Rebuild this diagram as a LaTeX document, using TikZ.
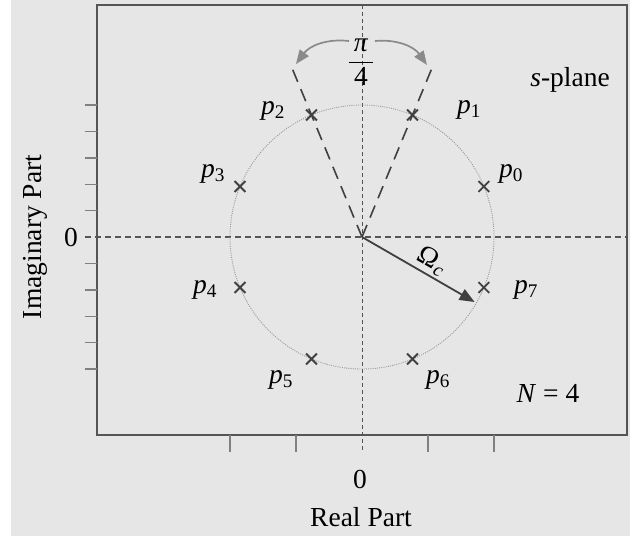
\documentclass[tikz,border=0pt]{standalone}
\usepackage{fontspec}
\setmainfont{Liberation Serif}
\usetikzlibrary{arrows.meta,shapes.misc}
\definecolor{bg}{HTML}{E6E6E6}
\definecolor{ink}{HTML}{404040}
\definecolor{frame}{HTML}{555555}
\definecolor{tickc}{HTML}{808080}
\definecolor{arcc}{HTML}{8A8A8A}
\definecolor{circc}{HTML}{9A9A9A}
\begin{document}
\begin{tikzpicture}[x=1pt,y=-1pt,
  lbl/.style={font=\fontsize{27.5}{32}\selectfont, inner sep=0pt, text=black},
  polemark/.style={draw=ink, cross out, minimum size=9pt, inner sep=0pt, line width=1.8pt},
  boxline/.style={draw=frame, line width=1.3pt},
  tickline/.style={draw=tickc, line width=1.4pt},
  axisv/.style={draw=ink!90, line width=1pt, dash pattern=on 4pt off 3pt},
  axish/.style={draw=frame, line width=1.1pt, dash pattern=on 6pt off 4pt},
  radial/.style={draw=ink, line width=1.6pt, dash pattern=on 13pt off 8pt},
  unitcirc/.style={draw=circc, line width=0.9pt, dash pattern=on 1pt off 1.2pt},
  omegaarrow/.style={draw=ink, line width=1.8pt, -{Triangle[length=15pt,width=12pt]}},
  anglearrow/.style={draw=arcc, line width=1.7pt, -{Triangle[length=14pt,width=11pt]}}]
\useasboundingbox (0,0) rectangle (630,536);
\fill[bg] (11,0) rectangle (630,536);
% frame
\draw[boxline] (97,5) rectangle (627,435);
% coordinates
\coordinate (O) at (362,237);
\coordinate (AL) at (85,237);
\coordinate (AR) at (627,237);
\coordinate (AT) at (362,5);
\coordinate (AB) at (362,452);
\coordinate (R1) at (432.0,68.0);
\coordinate (R2) at (292.0,68.0);
\coordinate (W) at (474.6,302);
% ticks
\foreach \yy in {105,131.4,157.8,184.2,210.6,263.4,289.8,316.2,342.6,369}
  \draw[tickline] (85,\yy) -- (97,\yy);
\foreach \xx in {230,296,428,494}
  \draw[tickline] (\xx,435) -- (\xx,452);
% axes
\draw[axish] (AL) -- (AR);
\draw[axisv] (AT) -- (AB);
% circle
\draw[unitcirc] (O) circle[radius=132];
% radial dashed lines
\draw[radial] (O) -- (R1);
\draw[radial] (O) -- (R2);
% poles
\node[polemark] (x0) at (483.9,186.5) {};
\node[polemark] (x1) at (412.5,115.0) {};
\node[polemark] (x2) at (311.5,115.0) {};
\node[polemark] (x3) at (240.0,186.5) {};
\node[polemark] (x4) at (240.0,287.5) {};
\node[polemark] (x5) at (311.5,359.0) {};
\node[polemark] (x6) at (412.5,359.0) {};
\node[polemark] (x7) at (483.9,287.5) {};
% pole labels
\node[lbl] (l0) at (511,174) {\textit{p}\textsubscript{0}};
\node[lbl] (l1) at (469,110) {\textit{p}\textsubscript{1}};
\node[lbl] (l2) at (273,111) {\textit{p}\textsubscript{2}};
\node[lbl] (l3) at (213,174) {\textit{p}\textsubscript{3}};
\node[lbl] (l4) at (205,290) {\textit{p}\textsubscript{4}};
\node[lbl] (l5) at (281,380) {\textit{p}\textsubscript{5}};
\node[lbl] (l6) at (438,380) {\textit{p}\textsubscript{6}};
\node[lbl] (l7) at (526,290) {\textit{p}\textsubscript{7}};
% omega arrow
\draw[omegaarrow] (O) -- (W);
\node[lbl, rotate=-30] (om) at (432,261) {Ω\kern1pt\textsubscript{\textit{c}}};
% angle
\node[lbl] (pi) at (361,62) {$\displaystyle\frac{\mbox{\,\textit{π}\,}}{\mbox{4}}$};
\coordinate (A1) at (349,41);
\coordinate (A2) at (296,64);
\coordinate (B1) at (375,41);
\coordinate (B2) at (427,65);
\draw[anglearrow] (A1) to[bend right=30] (A2);
\draw[anglearrow] (B1) to[bend left=30] (B2);
% texts
\node[lbl] (sp) at (570,80) {\textit{s}-plane};
\node[lbl] (nn) at (548,393) {\textit{N} = 4};
\node[lbl] (zx) at (360,479) {0};
\node[lbl] (zy) at (71,237) {0};
\node[lbl] (rp) at (361,517) {Real Part};
\node[lbl, rotate=90] (ip) at (35,237) {Imaginary Part};
\end{tikzpicture}
\end{document}
